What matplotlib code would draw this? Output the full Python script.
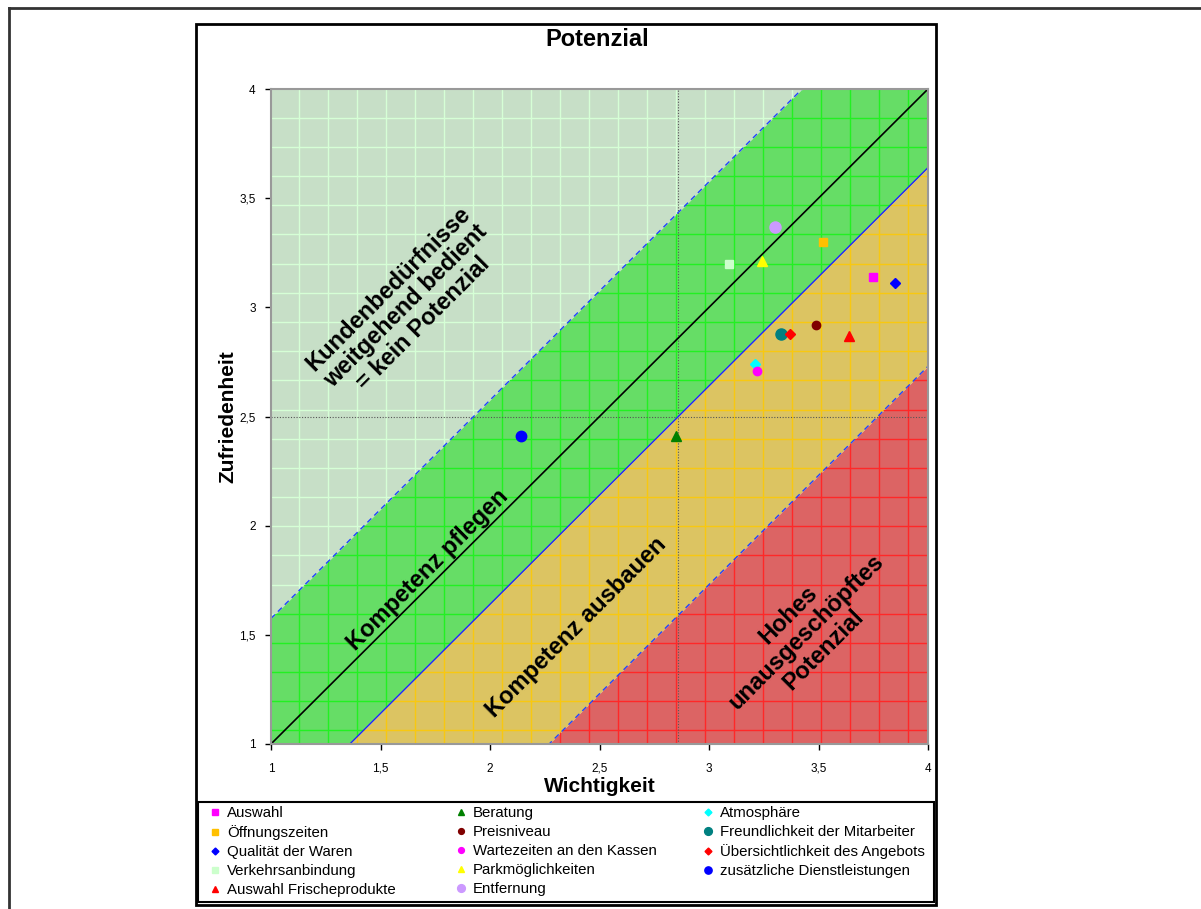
import numpy as np
import matplotlib
matplotlib.use("Agg")
import matplotlib.pyplot as plt
from matplotlib.lines import Line2D
from matplotlib.patches import Rectangle

plt.rcParams['font.family'] = ['Liberation Sans', 'DejaVu Sans']

# series (row-major order as in the legend)
names = ["Auswahl", "Beratung", "Atmosphäre",
         "Öffnungszeiten", "Preisniveau", "Freundlichkeit der Mitarbeiter",
         "Qualität der Waren", "Wartezeiten an den Kassen", "Übersichtlichkeit des Angebots",
         "Verkehrsanbindung", "Parkmöglichkeiten", "zusätzliche Dienstleistungen",
         "Auswahl Frischeprodukte", "Entfernung"]
wichtigkeit = [3.75, 2.85, 3.21, 3.52, 3.49, 3.33, 3.85, 3.22, 3.37, 3.09, 3.24, 2.14, 3.64, 3.30]
zufriedenheit = [3.14, 2.41, 2.74, 3.30, 2.92, 2.88, 3.11, 2.71, 2.88, 3.20, 3.21, 2.41, 2.87, 3.37]
markers = ['s', '^', 'D', 's', 'o', 'o', 'D', 'o', 'D', 's', '^', 'o', '^', 'o']
msizes = [6, 6.5, 5, 6, 6, 8, 5, 6, 5, 6, 6.5, 7.5, 7, 8]
colors = ['#ff00ff', '#008000', '#00ffff', '#ffc000', '#800000', '#008080', '#0000ff',
          '#ff00ff', '#ff0000', '#ccffcc', '#ffff00', '#0000ff', '#ff0000', '#cc99ff']

# band offsets (y = x + offset)
off_upper = 0.575
off_mid = -0.36
off_low = -1.27
mean_x = 2.857
mean_y = 2.5

W, H = 1201, 909
fig = plt.figure(figsize=(W / 100, H / 100), dpi=100)
ax = fig.add_axes([271 / W, 1 - 744 / H, 657 / W, 655 / H])
ax.set_xlim(1, 4)
ax.set_ylim(1, 4)

xs = np.linspace(1, 4, 301)
lim = lambda v: np.clip(v, 1, 4)
regions = [
    (lim(xs + off_upper), np.full_like(xs, 4.0), '#c7dfc7', '#d6ffd6'),
    (lim(xs + off_mid), lim(xs + off_upper), '#66dd66', '#22f022'),
    (lim(xs + off_low), lim(xs + off_mid), '#dcc462', '#f8c810'),
    (np.full_like(xs, 1.0), lim(xs + off_low), '#dc6464', '#ff2828'),
]
grid_x = np.arange(1.128, 4, 0.1325)
grid_y = np.arange(3.868, 1, -0.1336)
for lo, hi, fc, gc in regions:
    coll = ax.fill_between(xs, lo, hi, color=fc, lw=0, zorder=1)
    path = coll.get_paths()[0]
    v = ax.vlines(grid_x, 1, 4, colors=gc, lw=1.0, zorder=2)
    h = ax.hlines(grid_y, 1, 4, colors=gc, lw=1.0, zorder=2)
    v.set_clip_path(path, ax.transData)
    h.set_clip_path(path, ax.transData)

# mean lines
ax.axvline(mean_x, color='#555555', lw=0.8, ls=(0, (1, 1.5)), zorder=3)
ax.axhline(mean_y, color='#555555', lw=0.8, ls=(0, (1, 1.5)), zorder=3)

# band borders
ax.plot(xs, xs + off_upper, color='#2244ff', lw=1.0, ls=(0, (4, 3)), zorder=3)
ax.plot(xs, xs, color='black', lw=1.2, zorder=3)
ax.plot(xs, xs + off_mid, color='#2222ff', lw=1.0, zorder=3)
ax.plot(xs, xs + off_low, color='#2244ff', lw=1.0, ls=(0, (4, 3)), zorder=3)

# zone labels
tkw = dict(rotation=45, ha='center', va='center', fontsize=17, fontweight='bold',
           multialignment='center', zorder=4, linespacing=1.08)
ax.text(1.615, 3.005, "Kundenbedürfnisse\nweitgehend bedient\n= kein Potenzial", **tkw)
ax.text(1.717, 1.797, "Kompetenz pflegen", **tkw)
ax.text(2.393, 1.536, "Kompetenz ausbauen", **tkw)
ax.text(3.443, 1.513, "Hohes\nunausgeschöpftes\nPotenzial", **tkw)

handles = []
for i, n in enumerate(names):
    hnd, = ax.plot(wichtigkeit[i], zufriedenheit[i], marker=markers[i], ms=msizes[i],
                   color=colors[i], mec=colors[i], ls='none', label=n, zorder=5)
    handles.append(hnd)

ticks = [1, 1.5, 2, 2.5, 3, 3.5, 4]
ticklabels = ["1", "1,5", "2", "2,5", "3", "3,5", "4"]
ax.set_xticks(ticks)
ax.set_xticklabels(ticklabels, va='baseline')
ax.set_yticks(ticks)
ax.set_yticklabels(ticklabels)
ax.tick_params(axis='both', direction='out', length=4, width=1, labelsize=8.5)
ax.tick_params(axis='x', pad=16)
ax.tick_params(axis='y', pad=7)
for s in ax.spines.values():
    s.set_color('#999999')
    s.set_linewidth(1.5)
    s.set_zorder(6)

ax.set_xlabel("Wichtigkeit", fontsize=15, fontweight='bold', va='center')
ax.xaxis.set_label_coords(0.5, -(787 - 744) / 655)
ax.set_ylabel("Zufriedenheit", fontsize=15, fontweight='bold', va='center')
ax.yaxis.set_label_coords(-(271 - 228) / 657, 0.5)

fig.text(597 / W, 1 - 40 / H, "Potenzial", fontsize=17, fontweight='bold', ha='center', va='center')

# legend in three columns
col_x = [206, 452, 699]
for c in range(3):
    hs = handles[c::3]
    fig.legend(handles=hs, loc='upper left', bbox_to_anchor=(col_x[c] / W, 1 - 803 / H),
               frameon=False, fontsize=10.8, handlelength=0.8, handletextpad=0.4,
               labelspacing=0.33, borderpad=0.2, borderaxespad=0, markerscale=0.7)

# frames
fig.add_artist(Rectangle((198 / W, 1 - 902 / H), (934 - 198) / W, (902 - 802) / H,
                         transform=fig.transFigure, fill=False, ec='black', lw=1.5))
fig.add_artist(Rectangle((196 / W, 1 - 905 / H), (936 - 196) / W, (905 - 24) / H,
                         transform=fig.transFigure, fill=False, ec='black', lw=2))
fig.add_artist(Line2D([9 / W, 1], [1 - 8 / H, 1 - 8 / H], transform=fig.transFigure,
                      color='#333333', lw=2))
fig.add_artist(Line2D([9 / W, 9 / W], [0, 1 - 8 / H], transform=fig.transFigure,
                      color='#333333', lw=2))

fig.savefig("out.png", dpi=100)
